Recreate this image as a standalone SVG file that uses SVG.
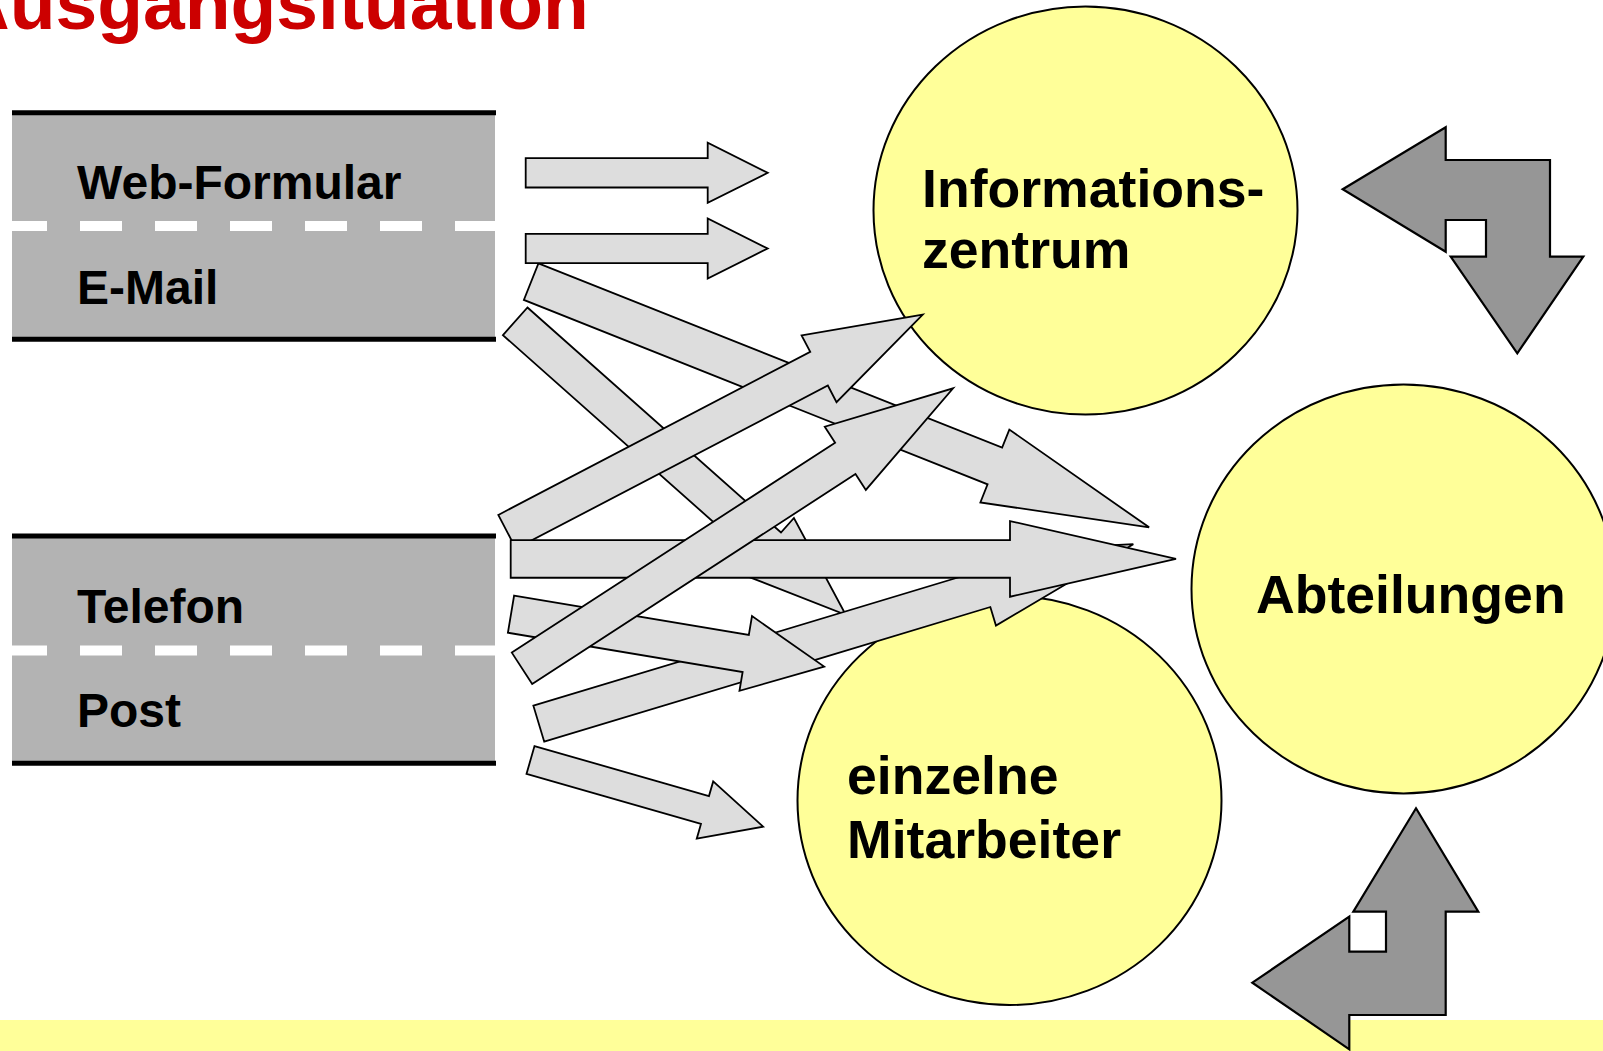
<svg xmlns="http://www.w3.org/2000/svg" width="1603" height="1051" viewBox="0 0 1603 1051">
  <style>
    .road { fill: #B3B3B3; }
    .edge { stroke: #000; stroke-width: 5; }
    .dash { stroke: #fff; stroke-width: 10; stroke-dasharray: 42 33; stroke-dashoffset: 7; }
    .lbl { font-family: "Liberation Sans", Arial, sans-serif; font-weight: bold; fill: #000; }
    .ch { font-size: 48px; }
    .nd { font-size: 53.6px; }
    .circ { fill: #FFFF99; stroke: #000; stroke-width: 2; }
    .arr { fill: #DDDDDD; stroke: #000; stroke-width: 1.8; stroke-linejoin: miter; }
    .cyc { fill: #969696; stroke: #000; stroke-width: 2.2; }
  </style>

  <rect x="0" y="0" width="1603" height="1051" fill="#fff"/>

  <text x="-44.5" y="29" font-family="Liberation Sans, Arial, sans-serif" font-weight="bold" font-size="75" fill="#CC0000">Ausgangsituation</text>

  <g id="channels-web-email">
    <rect class="road" x="12" y="113" width="483" height="226"/>
    <line class="edge" x1="12" y1="112.7" x2="496" y2="112.7"/>
    <line class="edge" x1="12" y1="339.3" x2="496" y2="339.3"/>
    <line class="dash" x1="12" y1="226" x2="496" y2="226"/>
    <text class="lbl ch" x="77" y="199.3">Web-Formular</text>
    <text class="lbl ch" x="77" y="304">E-Mail</text>
  </g>

  <g id="channels-telefon-post">
    <rect class="road" x="12" y="536" width="483" height="227"/>
    <line class="edge" x1="12" y1="536" x2="496" y2="536"/>
    <line class="edge" x1="12" y1="763.3" x2="496" y2="763.3"/>
    <line class="dash" x1="12" y1="650.5" x2="496" y2="650.5"/>
    <text class="lbl ch" x="77" y="622.7">Telefon</text>
    <text class="lbl ch" x="77" y="727.3">Post</text>
  </g>

  <g id="informationszentrum">
    <ellipse class="circ" cx="1085.5" cy="210.5" rx="212" ry="204"/>
    <text class="lbl nd" x="922" y="206.5">Informations-</text>
    <text class="lbl nd" x="922" y="268">zentrum</text>
  </g>

  <g id="abteilungen">
    <ellipse class="circ" cx="1403.5" cy="588.9" rx="212" ry="204.5"/>
    <text class="lbl nd" x="1256" y="613">Abteilungen</text>
  </g>

  <g id="mitarbeiter">
    <ellipse class="circ" cx="1009.5" cy="800.5" rx="212" ry="204.5"/>
    <text class="lbl nd" x="847" y="793.5">einzelne</text>
    <text class="lbl nd" x="847" y="857.5">Mitarbeiter</text>
  </g>

  <g id="connectors">
    <!-- E-Mail -> Abteilungen -->
    <polygon class="arr" transform="translate(531.15,281.65) rotate(21.68)" points="0,-19.7 499,-19.7 499,-39.2 665,0 499,39.2 499,19.7 0,19.7"/>
    <!-- E-Mail -> einzelne Mitarbeiter -->
    <polygon class="arr" transform="translate(515.2,321.3) rotate(41.6)" points="0,-18.5 339,-18.5 339,-38 442,0 339,38 339,18.5 0,18.5"/>
    <!-- Post -> Abteilungen -->
    <polygon class="arr" transform="translate(538.8,723.7) rotate(-16.8)" points="0,-18.8 466,-18.8 466,-38.2 621,0 466,38.2 466,18.8 0,18.8"/>
    <!-- Telefon -> einzelne Mitarbeiter -->
    <polygon class="arr" transform="translate(511,614.2) rotate(9.5)" points="0,-18.8 238,-18.8 238,-37.9 317.5,0 238,37.9 238,18.8 0,18.8"/>
    <!-- Telefon -> Informationszentrum (1) -->
    <polygon class="arr" transform="translate(507.1,531.8) rotate(-27.6)" points="0,-19 352,-19 352,-37.7 469,0 352,37.7 352,19 0,19"/>
    <!-- Telefon -> Abteilungen -->
    <polygon class="arr" transform="translate(510.7,558.9)" points="0,-18.85 499.3,-18.85 499.3,-37.85 665.3,0 499.3,37.85 499.3,18.85 0,18.85"/>
    <!-- Post -> Informationszentrum (2) -->
    <polygon class="arr" transform="translate(522,668.3) rotate(-33)" points="0,-18.7 385.5,-18.7 385.5,-37.7 514,0 385.5,37.7 385.5,18.7 0,18.7"/>
    <!-- Web-Formular -> Informationszentrum -->
    <polygon class="arr" transform="translate(525.7,172.8)" points="0,-14.7 182,-14.7 182,-30 242,0 182,30 182,14.7 0,14.7"/>
    <!-- E-Mail -> Informationszentrum -->
    <polygon class="arr" transform="translate(525.7,248.5)" points="0,-14.7 182,-14.7 182,-30 242,0 182,30 182,14.7 0,14.7"/>
    <!-- Post -> einzelne Mitarbeiter -->
    <polygon class="arr" transform="translate(530.5,760) rotate(16)" points="0,-14.5 181.5,-14.5 181.5,-29.8 242,0 181.5,29.8 181.5,14.5 0,14.5"/>
  </g>

  <rect x="0" y="1020" width="1603" height="31" fill="#FFFF99"/>

  <g id="cycle-arrows">
    <polygon class="cyc" points="1342.7,189.3 1445.7,127.3 1445.7,160 1550,160 1550,256.7 1583.3,256.7 1517.3,353.3 1450.7,256.7 1486,256.7 1486,220 1445.7,220 1445.7,251.7"/>
    <polygon class="cyc" points="1416,808.3 1478.3,911.7 1445.7,911.7 1445.7,1015 1349.3,1015 1349.3,1049.3 1252.3,982.7 1349.3,916.7 1349.3,951.7 1386,951.7 1386,911.7 1353.3,911.7"/>
  </g>
</svg>
